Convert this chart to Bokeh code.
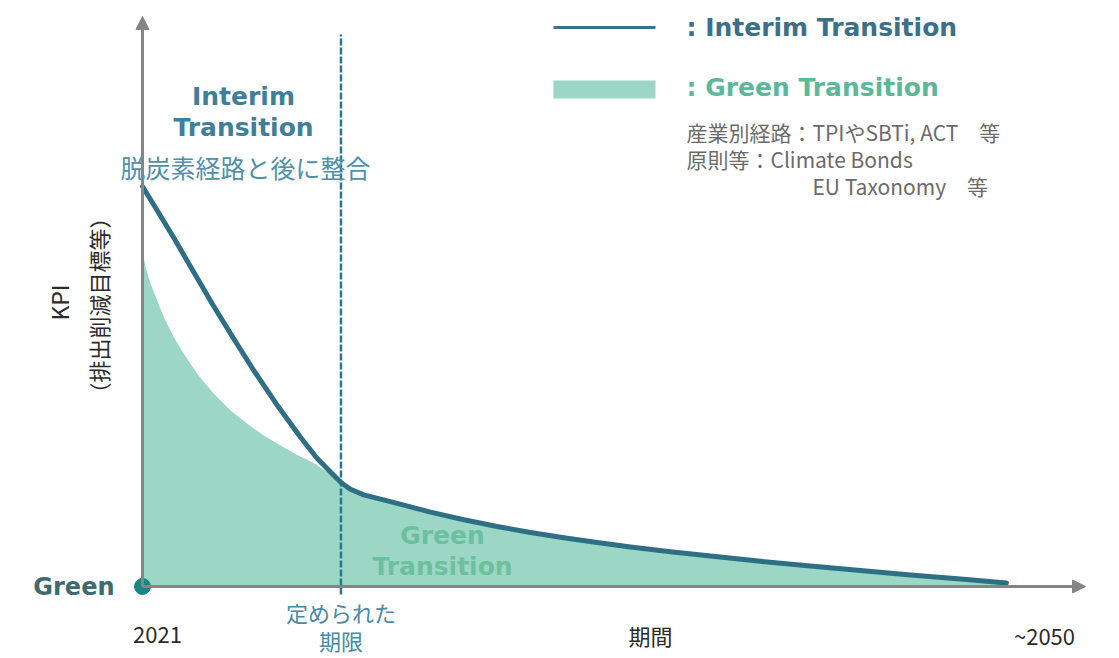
import numpy as np
from bokeh.plotting import figure
from bokeh.models import Range1d, Arrow, NormalHead
from bokeh.embed import file_html
from bokeh.resources import INLINE
from bokeh.core.properties import value

# ---- data (conceptual: period 0 = 2021 ... 100 = ~2050; KPI 100 = start level, 0 = Green)
interim_t = [0, 1.42, 3.62, 5.82, 8.07, 10.45, 12.88, 15.47, 18.29, 20.22, 21.76, 22.97,
             24.07, 25.61, 29.48, 33.33, 37.19, 41.05, 44.91, 48.76, 52.63, 56.48, 61.11,
             65.74, 71.53, 77.31, 83.10, 88.89, 94.68, 100]
interim_kpi = [100, 95.0, 87.2, 79.0, 70.7, 62.3, 54.0, 45.7, 37.3, 32.0, 28.6, 26.0,
               24.3, 22.9, 20.8, 18.6, 16.7, 15.0, 13.5, 12.2, 11.0, 9.9, 8.7,
               7.6, 6.3, 5.1, 4.0, 2.9, 1.9, 0.9]
green_t_early = [0, 0.35, 0.93, 1.70, 2.47, 3.62, 4.78, 6.33, 8.25, 10.19, 12.12, 14.04,
                 15.97, 17.9, 19.83, 21.76, 22.97]
green_kpi_early = [84.0, 79.8, 75.7, 71.5, 67.3, 62.3, 58.2, 53.2, 48.2, 44.0, 40.7, 37.75,
                   35.25, 32.9, 30.9, 28.0, 26.0]
deadline_t = 22.97
tick_t = [1.74, 58.8, 104.4]
tick_labels = ["2021", "期間", "~2050"]
deadline_label = ["定められた", "期限"]

# ---- layout helpers (pixel layout -> data units)
X0, XS = 142.0, 8.64
Y0, YS = 586.0, 4.0
def X(px): return (px - X0) / XS
def Y(py): return (Y0 - py) / YS

p = figure(width=1119, height=658, output_backend="svg", toolbar_location=None,
           x_range=Range1d(X(0), X(1119)), y_range=Range1d(Y(658), Y(0)),
           x_axis_type=None, y_axis_type=None, min_border=0)
p.grid.visible = False
p.outline_line_color = None
p.background_fill_color = "white"
p.border_fill_color = "white"

# green area: early curve then follows interim line after deadline
g_t = list(green_t_early) + [t for t in interim_t if t > deadline_t]
g_k = list(green_kpi_early) + [k for t, k in zip(interim_t, interim_kpi) if t > deadline_t]
p.varea(x=g_t, y1=[0] * len(g_t), y2=g_k, fill_color="#9cd6c4")

# axes with arrowheads
AX = "#858585"
p.add_layout(Arrow(x_start=0, y_start=0, x_end=X(1085), y_end=0, line_color=AX, line_width=3,
                   end=NormalHead(size=13, fill_color=AX, line_color=AX)))
p.add_layout(Arrow(x_start=0, y_start=0, x_end=0, y_end=Y(16), line_color=AX, line_width=3,
                   end=NormalHead(size=13, fill_color=AX, line_color=AX)))

# deadline dashed line
p.segment(x0=[deadline_t], y0=[Y(594)], x1=[deadline_t], y1=[Y(34)],
          line_color="#2a7794", line_width=2.5, line_dash="7 2")

# interim line
p.line(interim_t, interim_kpi, line_color="#2e6f86", line_width=5, line_join="round", line_cap="round")

# green dot at origin
p.scatter(x=[0], y=[0], size=16, fill_color="#1b8585", line_color="#1b8585")

# legend (manual)
p.segment(x0=[X(553)], y0=[Y(27)], x1=[X(655)], y1=[Y(27)], line_color="#3a7489", line_width=3)
p.quad(left=[X(553)], right=[X(655)], top=[Y(80)], bottom=[Y(98)], fill_color="#9cd6c4", line_color=None)

LAT = "DejaVu Sans"
JP = "Noto Sans CJK JP"
def txt(px, py, s, size, color, font=LAT, bold=False, align="center", angle=0.0):
    p.text(x=[X(px)], y=[Y(py)], text=[s], text_font=value(font), text_font_size=f"{size}px",
           text_font_style="bold" if bold else "normal", text_color=color,
           text_align=align, text_baseline="middle", angle=angle)

txt(686, 27, ": Interim Transition", 25, "#3b7088", bold=True, align="left")
txt(686, 87, ": Green Transition", 25, "#5db899", bold=True, align="left")
txt(686, 131, "産業別経路：TPIやSBTi, ACT　等", 21, "#6b6b6b", font=JP, align="left")
txt(686, 158, "原則等：Climate Bonds", 21, "#6b6b6b", font=JP, align="left")
txt(812, 185, "EU Taxonomy　等", 21, "#6b6b6b", font=JP, align="left")

txt(243, 96, "Interim", 25, "#3f7f99", bold=True)
txt(243, 127, "Transition", 25, "#3f7f99", bold=True)
txt(245, 166, "脱炭素経路と後に整合", 25, "#5290aa", font=JP)

txt(442, 535, "Green", 25, "#6cc0a0", bold=True)
txt(442, 566, "Transition", 25, "#6cc0a0", bold=True)

txt(114, 586, "Green", 24, "#3d6b6e", bold=True, align="right")

# x labels
p.text(x=tick_t, y=[Y(634)] * len(tick_t), text=tick_labels, text_font=value(JP),
       text_font_size="22px", text_color="#2b2b2b", text_align="center", text_baseline="middle")
p.text(x=[deadline_t] * 2, y=[Y(611), Y(639)], text=deadline_label, text_font=value(JP),
       text_font_size="22px", text_color="#4a8aa5", text_align="center", text_baseline="middle")

# y axis label
txt(58, 302, "KPI", 23, "#2b2b2b", font=JP, angle=np.pi / 2)
txt(97, 305, "（排出削減目標等）", 22, "#2b2b2b", font=JP, angle=np.pi / 2)

open("out.html", "w").write(file_html(p, INLINE))
